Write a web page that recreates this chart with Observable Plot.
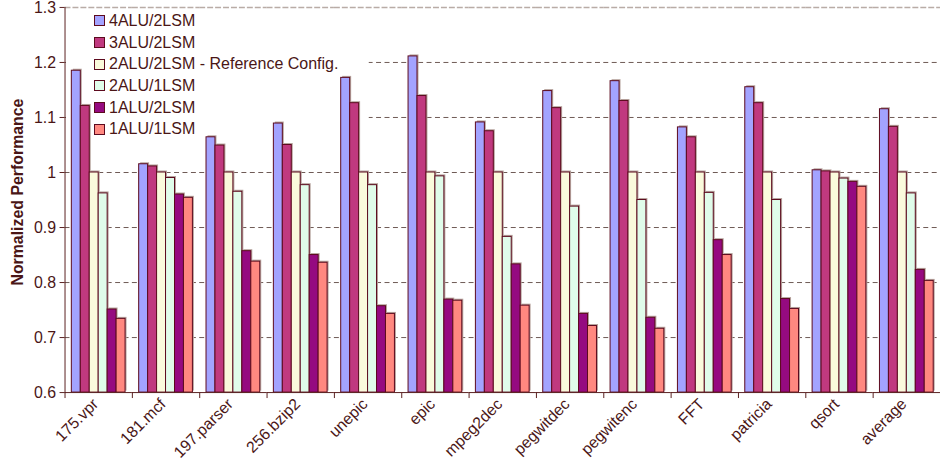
<!DOCTYPE html>
<html><head><meta charset="utf-8">
<script src="https://cdn.jsdelivr.net/npm/d3@7"></script>
<script src="https://cdn.jsdelivr.net/npm/@observablehq/plot@0.6"></script>
<style>
html,body{margin:0;padding:0;background:#fff;overflow:hidden;}
#wrap{position:relative;width:940px;height:469px;overflow:hidden;font-family:"Liberation Sans",Arial,sans-serif;}
#chart{position:absolute;left:0;top:0;}
#chart svg text{font-family:"Liberation Sans",Arial,sans-serif;}
#legend{position:absolute;left:92px;top:8px;width:279px;height:133px;color:#4a1616;font-size:16px;box-sizing:border-box;padding-top:2px;pointer-events:none;}
.row{height:21.7px;display:flex;align-items:center;}
.sw{width:9px;height:9px;border:1px solid #5c0a1e;margin-left:2px;margin-right:4px;flex:none;}
</style></head>
<body><div id="wrap"><div id="chart"></div><div id="legend"></div></div>
<script>
const categories = ["175.vpr","181.mcf","197.parser","256.bzip2","unepic","epic","mpeg2dec","pegwitdec","pegwitenc","FFT","patricia","qsort","average"];
const series = ["4ALU/2LSM","3ALU/2LSM","2ALU/2LSM - Reference Config.","2ALU/1LSM","1ALU/2LSM","1ALU/1LSM"];
const colors = ["#a3a3ff","#c0397f","#fafadc","#e0fcea","#950a80","#ff8880"];
const alu4lsm2 = [1.185,1.015,1.064,1.089,1.172,1.211,1.091,1.148,1.166,1.082,1.155,1.004,1.115];
const alu3lsm2 = [1.121,1.011,1.049,1.050,1.126,1.139,1.075,1.117,1.130,1.064,1.126,1.002,1.083];
const alu2lsm2 = [1.000,1.000,1.000,1.000,1.000,1.000,1.000,1.000,1.000,1.000,1.000,1.000,1.000];
const alu2lsm1 = [0.962,0.990,0.965,0.977,0.977,0.993,0.883,0.938,0.950,0.963,0.950,0.989,0.962];
const alu1lsm2 = [0.751,0.960,0.857,0.850,0.757,0.769,0.833,0.743,0.736,0.877,0.770,0.983,0.823];
const alu1lsm1 = [0.734,0.954,0.838,0.836,0.743,0.767,0.758,0.721,0.716,0.850,0.752,0.974,0.803];
const yTicks = [0.6,0.7,0.8,0.9,1.0,1.1,1.2,1.3];
const yLabel = "Normalized Performance";

const seriesValues = [alu4lsm2, alu3lsm2, alu2lsm2, alu2lsm1, alu1lsm2, alu1lsm1];
const data = [];
series.forEach((s, i) => categories.forEach((c, j) => data.push({category: c, series: s, value: seriesValues[i][j]})));

const ink = "#4a1616";
const chart = Plot.plot({
  width: 947, height: 469,
  marginLeft: 65, marginRight: 0, marginTop: 7, marginBottom: 74,
  style: {fontFamily: "Liberation Sans, Arial, sans-serif", fontSize: "16px", color: ink, background: "#fff"},
  fx: {domain: categories, padding: 0, round: false, label: null},
  x: {domain: series, paddingInner: 0, paddingOuter: 0.76, round: false, axis: null},
  y: {domain: [0.6, 1.3], label: null},
  color: {domain: series, range: colors},
  marks: [
    Plot.ruleY(yTicks.filter(d => d > 0.6 && d < 1.3), {y: d => d, stroke: "#6e5a55", strokeDasharray: "5,3.5", strokeWidth: 1}),
    Plot.ruleY([1.3], {y: d => d, stroke: "#b9aca6", strokeDasharray: "6,2", strokeWidth: 1.5}),
    // legend background box (covers gridlines, sits under the bars)
    Plot.frame({facet: "super", fill: "#fff", stroke: null, insetLeft: 1, insetRight: 576, insetTop: 2, insetBottom: 254}),
    Plot.barY(data, {fx: "category", x: "series", y1: 0.6, y2: "value", fill: "#b6a39d", dx: 1.5, dy: -1.5}),
    Plot.barY(data, {fx: "category", x: "series", y1: 0.6, y2: "value", fill: "series", stroke: "#5c0a1e", strokeWidth: 1}),
    Plot.ruleY([0.6], {y: d => d, stroke: "#5a2020", strokeWidth: 1}),
    Plot.frame({anchor: "left", facet: "super", stroke: "#5a2020"}),
    Plot.frame({anchor: "left", insetTop: 383, dy: 5, stroke: "#5a2020"}),
    Plot.axisY({ticks: yTicks, tickFormat: d => String(+d.toFixed(1)), tickSize: 5, tickPadding: 4, stroke: "#5a2020", fill: ink, fontSize: 16, label: null}),
    Plot.text([yLabel], {frameAnchor: "left", textAnchor: "middle", rotate: -90, dx: -47, dy: -8, facet: "super", fontWeight: "bold", fontSize: 16, fill: ink}),
    Plot.axisFx({anchor: "bottom", tickSize: 0, tickRotate: -45, tickPadding: 9, dx: -3, fontSize: 16, fill: ink, label: null})
  ]
});
document.getElementById("chart").appendChild(chart);

const legend = document.getElementById("legend");
series.forEach((s, i) => {
  const row = document.createElement("div");
  row.className = "row";
  const sw = document.createElement("span");
  sw.className = "sw";
  sw.style.background = colors[i];
  const t = document.createElement("span");
  t.textContent = s;
  row.appendChild(sw); row.appendChild(t);
  legend.appendChild(row);
});
</script></body></html>
